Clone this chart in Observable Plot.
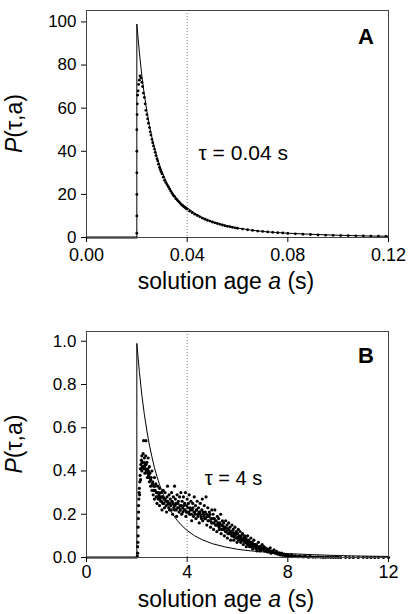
<!DOCTYPE html>
<html>
<head>
<meta charset="utf-8">
<script src="https://cdn.jsdelivr.net/npm/d3@7"></script>
<script src="https://cdn.jsdelivr.net/npm/@observablehq/plot@0.6"></script>
<style>
  html, body { margin: 0; padding: 0; background: #fff; }
  #chart { width: 409px; }
  #chart svg { display: block; }
</style>
</head>
<body>
<div id="chart"></div>
<script>
// ---------- Panel A data ----------
const aXTicks = [0, 0.04, 0.08, 0.12];
const aYTicks = [0, 20, 40, 60, 80, 100];
const aTau = [0.04];
const aLabel = "τ = 0.04 s";
const aAnnot = [{x: 0.0445, y: 39, text: aLabel}];
// model curve (solid line)
const aCurve = [
  [0,0],[0.02,0],[0.02,99],[0.021,86],[0.022,75],[0.023,66],[0.024,58.5],[0.025,52],
  [0.026,46.5],[0.027,41.5],[0.028,37.5],[0.029,33.8],[0.030,30.5],[0.032,25.2],[0.034,21],
  [0.036,17.8],[0.038,15.5],[0.040,13.8],[0.043,11.3],[0.046,9.3],[0.050,7.3],[0.055,5.6],
  [0.060,4.4],[0.065,3.5],[0.070,2.8],[0.075,2.35],[0.080,2.0],[0.090,1.45],[0.100,1.05],
  [0.110,0.75],[0.120,0.55]
];
// measured points
const aDots = [
  [0.0200,2],[0.0200,10],[0.0200,20],[0.0200,30],[0.0200,40],[0.0200,50],[0.0201,57],[0.0202,62],
  [0.0203,66],[0.0205,68],[0.0207,71],[0.021,73],[0.0213,75],[0.0216,74],[0.022,72],[0.0223,70],
  [0.0226,67],[0.023,65],[0.0233,62],[0.0236,59],[0.024,57],[0.0243,55],[0.0246,53],[0.025,51],
  [0.0253,49],[0.0256,47.5],[0.026,45.5],[0.0263,44],[0.0266,42.5],[0.027,41],[0.0273,39.5],
  [0.0276,38],[0.028,36.5],[0.0283,35.5],[0.0286,34],[0.029,32.5],[0.0293,31.5],[0.0296,30.5],
  [0.030,29.5],[0.0305,28],[0.031,26.5],[0.0315,25.5],[0.032,24.5],[0.0325,23.5],[0.033,22.5],
  [0.0335,21.5],[0.034,20.5],[0.0345,19.5],[0.035,19],[0.0355,18],[0.036,17.5],[0.0365,16.8],
  [0.037,16.2],[0.0375,15.5],[0.038,15],[0.0385,14.5],[0.039,14],[0.0395,13.5],[0.040,13.2],
  [0.041,12.2],[0.042,11.5],[0.043,10.8],[0.044,10.2],[0.045,9.6],[0.046,9],[0.047,8.5],
  [0.048,8],[0.049,7.6],[0.050,7.2],[0.051,6.8],[0.052,6.5],[0.053,6.1],[0.054,5.8],[0.055,5.5],
  [0.056,5.2],[0.057,5],[0.058,4.7],[0.059,4.5],[0.060,4.3],[0.062,3.9],[0.064,3.6],[0.066,3.3],
  [0.068,3],[0.070,2.8],[0.072,2.6],[0.074,2.4],[0.076,2.2],[0.078,2.1],[0.080,1.9],[0.083,1.7],
  [0.086,1.5],[0.089,1.4],[0.092,1.2],[0.095,1.1],[0.098,1],[0.101,0.9],[0.104,0.85],[0.107,0.8],
  [0.110,0.7],[0.113,0.65],[0.116,0.6],[0.119,0.55]
];

// ---------- Panel B data ----------
const bXTicks = [0, 4, 8, 12];
const bYTicks = [0, 0.2, 0.4, 0.6, 0.8, 1.0];
const bTau = [4];
const bLabel = "τ = 4 s";
const bAnnot = [{x: 4.7, y: 0.364, text: bLabel}];
const bCurve = [
  [0,0],[2,0],[2,0.99],[2.1,0.86],[2.2,0.75],[2.3,0.66],[2.4,0.585],[2.5,0.52],[2.6,0.465],
  [2.7,0.415],[2.8,0.375],[2.9,0.338],[3.0,0.305],[3.2,0.25],[3.4,0.205],[3.6,0.172],[3.8,0.146],
  [4.0,0.125],[4.3,0.1],[4.6,0.082],[5.0,0.064],[5.5,0.049],[6.0,0.038],[6.5,0.031],[7.0,0.026],
  [7.5,0.021],[8.0,0.018],[9,0.013],[10,0.009],[11,0.0065],[12,0.005]
];
const bDots = [
  [2.02,0.005],[2.03,0.02],[2.03,0.05],[2.04,0.07],[2.05,0.1],[2.05,0.14],[2.06,0.18],[2.07,0.21],
  [2.07,0.24],[2.08,0.27],[2.09,0.3],[2.1,0.32],[2.11,0.29],[2.12,0.35],[2.13,0.38],[2.14,0.41],[2.15,0.36],
  [2.16,0.43],[2.18,0.45],[2.2,0.4],[2.2,0.47],[2.22,0.42],[2.24,0.44],[2.25,0.48],[2.27,0.54],
  [2.28,0.41],[2.3,0.46],[2.32,0.39],[2.33,0.43],[2.35,0.47],[2.36,0.54],[2.38,0.4],[2.4,0.44],
  [2.42,0.37],[2.44,0.41],[2.45,0.46],[2.47,0.38],[2.5,0.42],[2.5,0.35],
  [2.17,0.41],[2.21,0.44],[2.26,0.42],[2.29,0.44],[2.31,0.42],[2.34,0.41],[2.37,0.43],[2.41,0.4],
  [2.43,0.39],[2.46,0.4],[2.48,0.37],
  [2.52,0.39],[2.55,0.33],[2.57,0.37],[2.6,0.4],[2.6,0.31],[2.63,0.35],[2.65,0.29],[2.67,0.33],
  [2.7,0.37],[2.7,0.27],[2.73,0.31],[2.75,0.34],[2.77,0.28],[2.8,0.3],[2.8,0.25],[2.83,0.33],
  [2.85,0.27],[2.87,0.3],[2.9,0.24],[2.9,0.32],[2.93,0.28],[2.95,0.26],[2.97,0.3],[3.0,0.22],[3.0,0.28],
  [3.03,0.25],[3.05,0.31],[3.08,0.27],[3.1,0.23],[3.12,0.3],[3.15,0.26],[3.18,0.21],[3.2,0.28],
  [3.22,0.33],[3.25,0.25],[3.28,0.29],[3.3,0.22],[3.33,0.27],[3.35,0.24],[3.38,0.3],[3.4,0.26],
  [3.42,0.2],[3.45,0.28],[3.48,0.24],[3.5,0.33],[3.5,0.22],[3.53,0.27],[3.55,0.25],[3.58,0.19],
  [3.6,0.29],[3.62,0.23],[3.65,0.26],[3.68,0.21],[3.7,0.28],[3.72,0.24],[3.75,0.3],[3.78,0.2],
  [3.8,0.26],[3.82,0.23],[3.85,0.28],[3.88,0.22],[3.9,0.25],[3.93,0.3],[3.95,0.19],[3.98,0.24],
  [4.0,0.27],[4.02,0.21],[4.05,0.25],[4.08,0.29],[4.1,0.2],[4.12,0.23],[4.15,0.26],[4.18,0.17],
  [4.2,0.22],[4.22,0.25],[4.25,0.19],[4.28,0.28],[4.3,0.21],[4.33,0.24],[4.35,0.18],[4.38,0.22],
  [4.4,0.26],[4.42,0.2],[4.45,0.23],[4.48,0.16],[4.5,0.21],[4.52,0.25],[4.55,0.19],[4.58,0.22],
  [4.6,0.27],[4.62,0.17],[4.65,0.2],[4.68,0.24],[4.7,0.18],[4.72,0.21],[4.75,0.28],[4.78,0.15],
  [4.8,0.19],[4.82,0.23],[4.85,0.17],[4.88,0.21],[4.9,0.2],[4.93,0.14],[4.95,0.18],[4.98,0.22],
  [5.0,0.16],[5.03,0.2],[5.05,0.13],[5.08,0.18],[5.1,0.22],[5.13,0.15],[5.15,0.17],[5.18,0.12],
  [5.2,0.19],[5.23,0.15],[5.25,0.18],[5.28,0.13],[5.3,0.16],[5.33,0.2],[5.35,0.11],[5.38,0.15],
  [5.4,0.17],[5.43,0.13],[5.45,0.16],[5.48,0.1],[5.5,0.14],[5.53,0.17],[5.55,0.12],[5.58,0.15],
  [5.6,0.09],[5.63,0.13],[5.65,0.16],[5.68,0.11],[5.7,0.14],[5.73,0.08],[5.75,0.12],[5.78,0.15],
  [5.8,0.1],[5.83,0.13],[5.85,0.08],[5.88,0.11],[5.9,0.14],[5.93,0.09],[5.95,0.12],[5.98,0.07],
  [6.0,0.11],[6.03,0.13],[6.05,0.08],[6.08,0.1],[6.1,0.12],[6.13,0.07],[6.15,0.1],[6.18,0.08],
  [6.2,0.11],[6.23,0.06],[6.25,0.09],[6.28,0.1],[6.3,0.07],[6.33,0.09],[6.35,0.05],[6.38,0.08],
  [6.4,0.1],[6.43,0.06],[6.45,0.08],[6.48,0.05],[6.5,0.07],[6.53,0.09],[6.55,0.05],[6.58,0.07],
  [6.6,0.04],[6.63,0.06],[6.65,0.08],[6.68,0.05],[6.7,0.06],[6.73,0.04],[6.75,0.06],[6.78,0.03],
  [6.8,0.05],[6.83,0.07],[6.85,0.04],[6.88,0.05],[6.9,0.03],[6.93,0.05],[6.95,0.04],[6.98,0.06],
  [7.0,0.04],[7.05,0.05],[7.08,0.03],[7.1,0.045],[7.15,0.03],[7.18,0.04],[7.2,0.025],[7.25,0.035],
  [7.3,0.045],[7.33,0.02],[7.35,0.03],[7.4,0.025],[7.45,0.035],[7.5,0.02],[7.55,0.028],[7.6,0.015],
  [7.65,0.022],[7.7,0.012],[7.75,0.02],[7.8,0.01],[7.85,0.016],[7.9,0.008],[7.95,0.012],
  [8.0,0.01],[8.1,0.006],[8.15,0.012],[8.2,0.005],[8.3,0.008],[8.4,0.004],[8.5,0.006],[8.6,0.003],
  [8.7,0.005],[8.8,0.002],[8.9,0.004],[9.0,0.002],[9.2,0.003],[9.4,0.001],[9.6,0.002],[9.8,0.001],
  [10,0.001],[10.3,0.001],[10.6,0],[11,0.001],[11.3,0],[11.6,0],[12,0],
  [2.55,0.36],[2.62,0.34],[2.68,0.31],[2.72,0.33],[2.78,0.3],[2.82,0.28],[2.88,0.29],[2.92,0.27],
  [2.98,0.26],[3.02,0.28],[3.07,0.25],[3.13,0.27],[3.17,0.24],[3.23,0.26],[3.27,0.23],[3.32,0.25],
  [3.37,0.22],[3.43,0.25],[3.47,0.23],[3.52,0.24],[3.57,0.22],[3.63,0.25],[3.67,0.23],[3.73,0.22],
  [3.77,0.24],[3.83,0.21],[3.87,0.24],[3.92,0.22],[3.97,0.21],[4.03,0.23],[4.07,0.21],[4.13,0.22],
  [4.17,0.2],[4.23,0.23],[4.27,0.21],[4.32,0.2],[4.37,0.22],[4.43,0.19],[4.47,0.21],[4.53,0.2],
  [4.57,0.18],[4.63,0.21],[4.67,0.19],[4.73,0.18],[4.77,0.2],[4.83,0.17],[4.87,0.19],[4.92,0.17],
  [4.97,0.16],[5.02,0.18],[5.07,0.16],[5.12,0.17],[5.17,0.15],[5.22,0.16],[5.27,0.14],[5.32,0.15],
  [5.37,0.13],[5.42,0.145],[5.47,0.13],[5.52,0.12],[5.57,0.135],[5.62,0.11],[5.67,0.125],[5.72,0.11],
  [5.77,0.1],[5.82,0.115],[5.87,0.095],[5.92,0.105],[5.97,0.09],[6.02,0.095],[6.07,0.085],[6.12,0.09],
  [6.17,0.08],[6.22,0.085],[6.27,0.075],[6.32,0.08],[6.37,0.065],[6.42,0.075],[6.47,0.065],[6.52,0.06],
  [6.57,0.065],[6.62,0.055],[6.67,0.06],[6.72,0.05],[6.77,0.048],[6.82,0.045],[6.87,0.042],[6.92,0.04],
  [6.97,0.038],[7.03,0.035],[7.12,0.032],[7.22,0.03],[7.28,0.028],[7.38,0.025],[7.48,0.022],[7.58,0.02],
  [7.68,0.017],[7.78,0.015],[7.88,0.012],[7.98,0.009],[8.05,0.008],[8.25,0.006],[8.45,0.005],[8.65,0.004],
  [8.85,0.003],[9.1,0.002],[9.3,0.002],[9.5,0.001],[9.7,0.001],[9.9,0.001],[10.1,0],[10.45,0],
  [10.8,0],[11.15,0],[11.45,0],[11.8,0]
];

const FONT = "Arial, 'Liberation Sans', Helvetica, sans-serif";

function panel(cfg) {
  const svg = Plot.plot({
    width: 409,
    height: cfg.height,
    marginTop: cfg.mt,
    marginBottom: cfg.mb,
    marginLeft: 86,
    marginRight: 21,
    style: {fontFamily: FONT, color: "black", background: "white", overflow: "visible"},
    x: {domain: cfg.xDomain},
    y: {domain: cfg.yDomain},
    marks: [
      Plot.ruleX(cfg.tau, {stroke: "#777", strokeDasharray: "1,2", strokeWidth: 1}),
      Plot.line(cfg.curve.filter(d => d[1] === 0 && d[0] <= cfg.tau[0] / 2), {x: d => d[0], y: d => d[1], stroke: "black", strokeWidth: 2}),
      Plot.line(cfg.curve, {x: d => d[0], y: d => d[1], stroke: "black", strokeWidth: 1}),
      Plot.dot(cfg.dots, {x: d => d[0], y: d => d[1], r: cfg.r, fill: "black", stroke: null}),
      Plot.text(cfg.annot, {x: "x", y: "y", text: "text", textAnchor: "start", fontSize: cfg.annotSize, fill: "black"}),
      Plot.frame({stroke: "#444", strokeWidth: 1}),
      Plot.axisY(cfg.yTicks, {tickSize: 5, tickPadding: 5, fontSize: 17, tickFormat: cfg.yFmt, label: null}),
      Plot.axisX(cfg.xTicks, {tickSize: 5, tickPadding: cfg.xPad, fontSize: 18, tickFormat: cfg.xFmt, label: null})
    ]
  });
  const s = d3.select(svg);
  const H = cfg.height;
  // x axis title
  const xt = s.append("text")
    .attr("x", 226).attr("y", H - cfg.mb + cfg.xTitleDy)
    .attr("text-anchor", "middle").attr("dominant-baseline", "middle")
    .attr("font-size", 23).attr("font-family", FONT).attr("fill", "black");
  xt.append("tspan").text("solution age ");
  xt.append("tspan").attr("font-style", "italic").text("a");
  xt.append("tspan").text(" (s)");
  // y axis title
  const cy = cfg.mt + (H - cfg.mt - cfg.mb) / 2;
  const yt = s.append("text")
    .attr("transform", `translate(16,${cy}) rotate(-90)`)
    .attr("text-anchor", "middle").attr("dominant-baseline", "middle")
    .attr("font-size", 23).attr("font-family", FONT).attr("fill", "black");
  yt.append("tspan").attr("font-style", "italic").text("P");
  yt.append("tspan").text("(τ,a)");
  // panel letter
  s.append("text")
    .attr("x", 374).attr("y", cfg.letterY)
    .attr("text-anchor", "end")
    .attr("font-size", 22).attr("font-weight", "bold").attr("font-family", FONT).attr("fill", "black")
    .text(cfg.letter);
  return svg;
}

const chart = document.getElementById("chart");
chart.appendChild(panel({
  height: 300, mt: 10, mb: 63, xTitleDy: 46, xPad: 6, letterY: 44, r: 1.4, annotSize: 21,
  xDomain: [0, 0.12], yDomain: [0, 105.3],
  xTicks: aXTicks, yTicks: aYTicks, xFmt: d3.format(".2f"), yFmt: d3.format("d"),
  tau: aTau, curve: aCurve, dots: aDots, annot: aAnnot, letter: "A"
}));
chart.appendChild(panel({
  height: 314, mt: 31, mb: 57, xTitleDy: 44, xPad: 3, letterY: 63, r: 1.6, annotSize: 20,
  xDomain: [0, 12], yDomain: [0, 1.045],
  xTicks: bXTicks, yTicks: bYTicks, xFmt: d3.format("d"), yFmt: d3.format(".1f"),
  tau: bTau, curve: bCurve, dots: bDots, annot: bAnnot, letter: "B"
}));
</script>
</body>
</html>
